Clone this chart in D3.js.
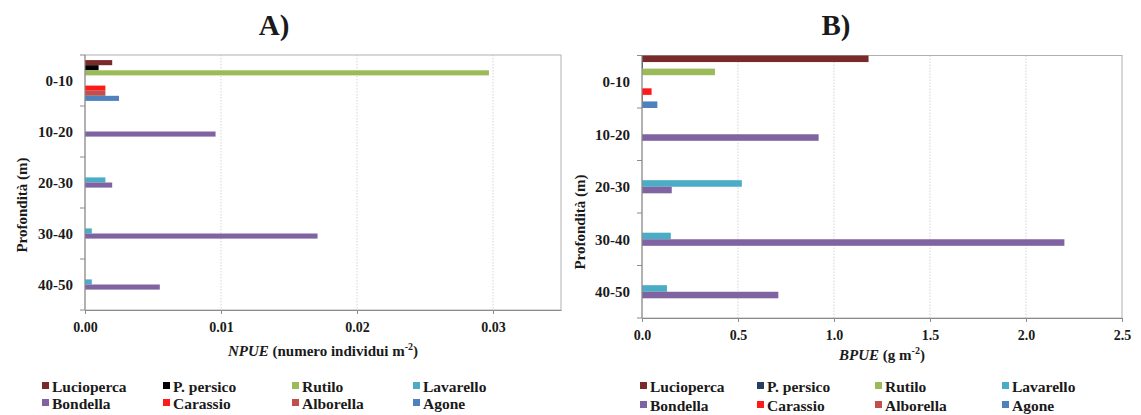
<!DOCTYPE html>
<html>
<head>
<meta charset="utf-8">
<script src="https://cdn.jsdelivr.net/npm/d3@7"></script>
<style>
  body { margin: 0; background: #fff; }
  svg text { font-family: "Liberation Serif", "DejaVu Serif", serif; font-weight: bold; }
</style>
</head>
<body>
<svg id="chart" width="1141" height="415"></svg>
<script>
// Depth classes (m) and fish species, in the order they are stacked in each cluster
const depths = ["0-10", "10-20", "20-30", "30-40", "40-50"];
const species = ["Lucioperca", "P. persico", "Rutilo", "Lavarello", "Bondella", "Carassio", "Alborella", "Agone"];

// NPUE (individuals m-2): one row per species, one column per depth class
const npue = [
  [0.0020, 0, 0, 0, 0],
  [0.0010, 0, 0, 0, 0],
  [0.0297, 0, 0, 0, 0],
  [0, 0, 0.0015, 0.0005, 0.0005],
  [0, 0.0096, 0.0020, 0.0171, 0.0055],
  [0.0015, 0, 0, 0, 0],
  [0.0015, 0, 0, 0, 0],
  [0.0025, 0, 0, 0, 0]
];

// BPUE (g m-2): one row per species, one column per depth class
const bpue = [
  [1.18, 0, 0, 0, 0],
  [0.005, 0, 0, 0, 0],
  [0.38, 0, 0, 0, 0],
  [0, 0, 0.52, 0.15, 0.13],
  [0, 0.92, 0.155, 2.20, 0.71],
  [0.05, 0, 0, 0, 0],
  [0.005, 0, 0, 0, 0],
  [0.08, 0, 0, 0, 0]
];

const npueTicks = [0, 0.01, 0.02, 0.03];
const bpueTicks = [0, 0.5, 1.0, 1.5, 2.0, 2.5];

const coloursA = ["#7a2a2a", "#000000", "#9bbb59", "#4bacc6", "#8064a2", "#ff1a1a", "#c0504d", "#4f81bd"];
const coloursB = ["#7a2a2a", "#243f60", "#9bbb59", "#4bacc6", "#8064a2", "#ff1a1a", "#c0504d", "#4f81bd"];

const FONT = '"Liberation Serif", "DejaVu Serif", serif';
const svg = d3.select("#chart");

function drawPanel(p) {
  const g = svg.append("g");
  const x = d3.scaleLinear().domain([0, p.xMax]).range([p.left, p.right]);
  const y0 = d3.scaleBand().domain(depths).range([p.top, p.bottom]).padding(0);
  const bw = y0.bandwidth();
  const y1 = d3.scaleBand().domain(species)
    .range([bw * p.gap, bw * (1 - p.gap)]).padding(0);

  // dotted vertical gridlines
  g.append("g").selectAll("line")
    .data(p.ticks.filter(t => t > 0 && t < p.xMax))
    .join("line")
    .attr("x1", d => x(d)).attr("x2", d => x(d))
    .attr("y1", p.top).attr("y2", p.bottom)
    .attr("stroke", "#d4d4d4").attr("stroke-width", 1)
    .attr("stroke-dasharray", "1.5,1.5");

  // plot frame
  g.append("rect")
    .attr("x", p.left).attr("y", p.top)
    .attr("width", p.right - p.left).attr("height", p.bottom - p.top)
    .attr("fill", "none").attr("stroke", "#b0b0b0").attr("stroke-width", 1);

  // bars
  const groups = g.append("g").selectAll("g")
    .data(depths)
    .join("g")
    .attr("transform", d => `translate(0,${y0(d)})`);
  groups.selectAll("rect")
    .data((d, j) => species.map((s, i) => ({ s, i, v: p.values[i][j] })))
    .join("rect")
    .attr("x", x(0))
    .attr("y", d => y1(d.s))
    .attr("width", d => x(d.v) - x(0))
    .attr("height", y1.bandwidth())
    .attr("fill", d => p.colours[d.i]);

  // x axis
  const xAxis = d3.axisBottom(x).tickValues(p.ticks).tickFormat(d3.format(p.fmt))
    .tickSizeInner(4).tickSizeOuter(0).tickPadding(8);
  const gx = g.append("g").attr("transform", `translate(0,${p.bottom})`).call(xAxis)
    .attr("font-family", FONT);
  gx.select(".domain").attr("stroke", "#8c8c8c");
  gx.selectAll(".tick line").attr("stroke", "#8c8c8c");
  gx.selectAll(".tick text").attr("font-size", 14).attr("font-family", FONT)
    .attr("font-weight", "bold").attr("fill", "#1a1a1a");

  // y axis: tick marks at band boundaries, labels at band centres
  const bounds = depths.map(d => y0(d)).concat([p.bottom]);
  g.append("g").selectAll("line").data(bounds).join("line")
    .attr("x1", p.left - 5).attr("x2", p.left)
    .attr("y1", d => d).attr("y2", d => d)
    .attr("stroke", "#8c8c8c");
  g.append("line")
    .attr("x1", p.left).attr("x2", p.left)
    .attr("y1", p.top).attr("y2", p.bottom)
    .attr("stroke", "#8c8c8c");
  g.append("g").selectAll("text").data(depths).join("text")
    .attr("x", p.left - 12)
    .attr("y", d => y0(d) + bw / 2)
    .attr("dy", "0.35em")
    .attr("text-anchor", "end")
    .attr("font-family", FONT)
    .attr("font-size", 15)
    .attr("fill", "#1a1a1a")
    .text(d => d);

  // y axis title
  g.append("text")
    .attr("transform", `translate(${p.yTitleX},${p.yTitleY}) rotate(-90)`)
    .attr("text-anchor", "middle")
    .attr("dy", "0.35em")
    .attr("font-family", FONT)
    .attr("font-size", 15)
    .attr("fill", "#1a1a1a")
    .text("Profondità (m)");

  // x axis title with italic index name and superscript exponent
  const xt = g.append("text")
    .attr("x", (p.left + p.right) / 2)
    .attr("y", p.xTitleY)
    .attr("text-anchor", "middle")
    .attr("font-family", FONT)
    .attr("font-size", 15)
    .attr("fill", "#1a1a1a");
  xt.append("tspan").attr("font-style", "italic").text(p.index);
  xt.append("tspan").text(p.unitPre);
  xt.append("tspan").attr("font-size", 10).attr("dy", -6).text("-2");
  xt.append("tspan").attr("dy", 6).text(")");

  // panel letter
  g.append("text")
    .attr("x", p.letterX).attr("y", 35)
    .attr("text-anchor", "middle")
    .attr("font-family", FONT)
    .attr("font-size", 29)
    .attr("fill", "#1a1a1a")
    .text(p.letter);

  // legend: two rows of four entries
  const leg = g.append("g").selectAll("g").data(species).join("g")
    .attr("transform", (d, i) => `translate(${p.legendX[i % 4]},${p.legendY[Math.floor(i / 4)]})`);
  leg.append("rect")
    .attr("x", 0).attr("y", -5).attr("width", 7).attr("height", 7)
    .attr("fill", (d, i) => p.colours[i]);
  leg.append("text")
    .attr("x", 10).attr("y", 0).attr("dy", "0.3em")
    .attr("font-family", FONT)
    .attr("font-size", 15.5)
    .attr("fill", "#1a1a1a")
    .text(d => d);
}

drawPanel({
  values: npue, colours: coloursA, ticks: npueTicks, fmt: ".2f", xMax: 0.035,
  left: 85, right: 561, top: 55, bottom: 310, gap: 0.1,
  yTitleX: 22, yTitleY: 205, xTitleY: 356,
  index: "NPUE", unitPre: " (numero individui m",
  letter: "A)", letterX: 274,
  legendX: [42, 163, 292, 413], legendY: [387, 404]
});

drawPanel({
  values: bpue, colours: coloursB, ticks: bpueTicks, fmt: ".1f", xMax: 2.5,
  left: 642, right: 1122, top: 55.5, bottom: 318, gap: 0,
  yTitleX: 580, yTitleY: 222, xTitleY: 360,
  index: "BPUE", unitPre: " (g m",
  letter: "B)", letterX: 836,
  legendX: [640, 757, 875, 1002], legendY: [387, 406]
});
</script>
</body>
</html>
